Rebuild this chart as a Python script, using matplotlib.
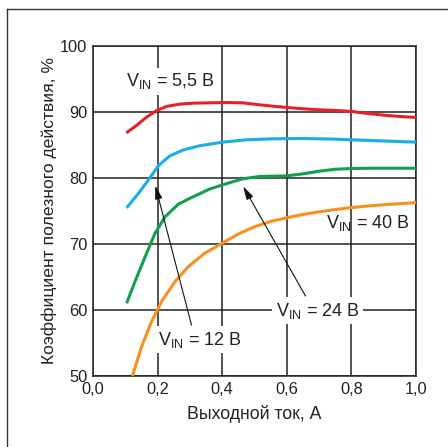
import matplotlib
matplotlib.use("Agg")
import matplotlib.pyplot as plt
from matplotlib.lines import Line2D

plt.rcParams['font.family'] = ['Liberation Sans', 'DejaVu Sans']
plt.rcParams['mathtext.default'] = 'regular'

# Efficiency curves
x_55 = [0.103, 0.134, 0.165, 0.196, 0.227, 0.268, 0.309, 0.361, 0.412, 0.464, 0.515,
        0.556, 0.60, 0.65, 0.70, 0.75, 0.80, 0.857, 0.908, 0.96, 1.00]
eff_55 = [86.8, 87.9, 89.15, 90.15, 90.8, 91.15, 91.3, 91.35, 91.4, 91.35, 91.05,
          90.85, 90.65, 90.45, 90.3, 90.2, 90.05, 89.7, 89.45, 89.25, 89.15]

x_12 = [0.104, 0.14, 0.171, 0.202, 0.237, 0.278, 0.33, 0.402, 0.474, 0.556, 0.65,
        0.75, 0.857, 1.00]
eff_12 = [75.45, 77.6, 79.65, 81.8, 83.3, 84.2, 84.85, 85.4, 85.75, 85.9, 85.95,
          85.85, 85.65, 85.4]

x_24 = [0.104, 0.13, 0.161, 0.192, 0.223, 0.264, 0.30, 0.361, 0.412, 0.464, 0.515,
        0.556, 0.60, 0.65, 0.70, 0.75, 0.80, 0.857, 1.00]
eff_24 = [61.0, 64.3, 68.0, 71.6, 74.1, 76.0, 76.9, 78.3, 79.1, 79.85, 80.2,
          80.25, 80.3, 80.6, 81.0, 81.3, 81.4, 81.45, 81.45]

x_40 = [0.122, 0.15, 0.181, 0.212, 0.254, 0.295, 0.346, 0.40, 0.45, 0.50, 0.55,
        0.60, 0.65, 0.70, 0.75, 0.80, 0.855, 0.907, 1.00]
eff_40 = [50.0, 54.4, 58.2, 61.25, 64.3, 66.55, 68.6, 70.1, 71.5, 72.6, 73.4,
          73.95, 74.45, 74.85, 75.2, 75.5, 75.75, 75.95, 76.25]

x_ticks = [0.0, 0.2, 0.4, 0.6, 0.8, 1.0]
x_tick_labels = ['0,0', '0,2', '0,4', '0,6', '0,8', '1,0']
y_ticks = [50, 60, 70, 80, 90, 100]

fig = plt.figure(figsize=(4.48, 4.47), dpi=100)
ax = fig.add_axes([0.2076, 0.1588, 0.7210, 0.7390])

ax.plot(x_55, eff_55, color='#e8202a', linewidth=2.2, zorder=3, solid_capstyle='butt')
ax.plot(x_12, eff_12, color='#1aaee8', linewidth=2.2, zorder=3, solid_capstyle='butt')
ax.plot(x_24, eff_24, color='#12a04a', linewidth=2.2, zorder=3, solid_capstyle='butt')
ax.plot(x_40, eff_40, color='#f7901e', linewidth=2.2, zorder=3, solid_capstyle='butt')

ax.set_xlim(0, 1.0)
ax.set_ylim(50, 100)
ax.set_xticks(x_ticks)
ax.set_xticklabels(x_tick_labels)
ax.set_yticks(y_ticks)
ax.tick_params(length=0, labelsize=11.8, pad=4, colors='#222222')
ax.grid(True, color='#222222', linewidth=1.1)
ax.set_axisbelow(True)
for s in ax.spines.values():
    s.set_color('#222222')
    s.set_linewidth(1.1)

ax.set_xlabel('Выходной ток, А', fontsize=12.8, color='#222222', labelpad=6)
ax.set_ylabel('Коэффициент полезного действия, %', fontsize=12.6, color='#222222', labelpad=2)

# Labels
box = dict(facecolor='white', edgecolor='none', pad=2.5)
ax.text(0.24, 94.6, r'V$_{IN}$ = 5,5 В', fontsize=13, ha='center', va='center', color='#222222',
        bbox=box, zorder=4)
ax.text(0.98, 73.1, r'V$_{IN}$ = 40 В', fontsize=13, ha='right', va='center', color='#222222')
ax.text(0.695, 59.9, r'V$_{IN}$ = 24 В', fontsize=13, ha='center', va='center', color='#222222',
        bbox=box, zorder=4)
ax.text(0.33, 55.5, r'V$_{IN}$ = 12 В', fontsize=13, ha='center', va='center', color='#222222',
        bbox=box, zorder=4)

arrow = dict(arrowstyle='-|>,head_length=0.8,head_width=0.22', color='#111111', lw=0.8,
             shrinkA=0, shrinkB=0)
ax.annotate('', xy=(0.193, 78.8), xytext=(0.305, 57.7), arrowprops=arrow, zorder=5)
ax.annotate('', xy=(0.465, 78.7), xytext=(0.658, 62.1), arrowprops=arrow, zorder=5)

# Frame around the figure (top and left only)
fig.add_artist(Line2D([7 / 448, 1.0], [1 - 9 / 447, 1 - 9 / 447], transform=fig.transFigure,
                      color='#333333', linewidth=1.0))
fig.add_artist(Line2D([7 / 448, 7 / 448], [0.0, 1 - 9 / 447], transform=fig.transFigure,
                      color='#333333', linewidth=1.0))

fig.savefig('out.png', dpi=100)
